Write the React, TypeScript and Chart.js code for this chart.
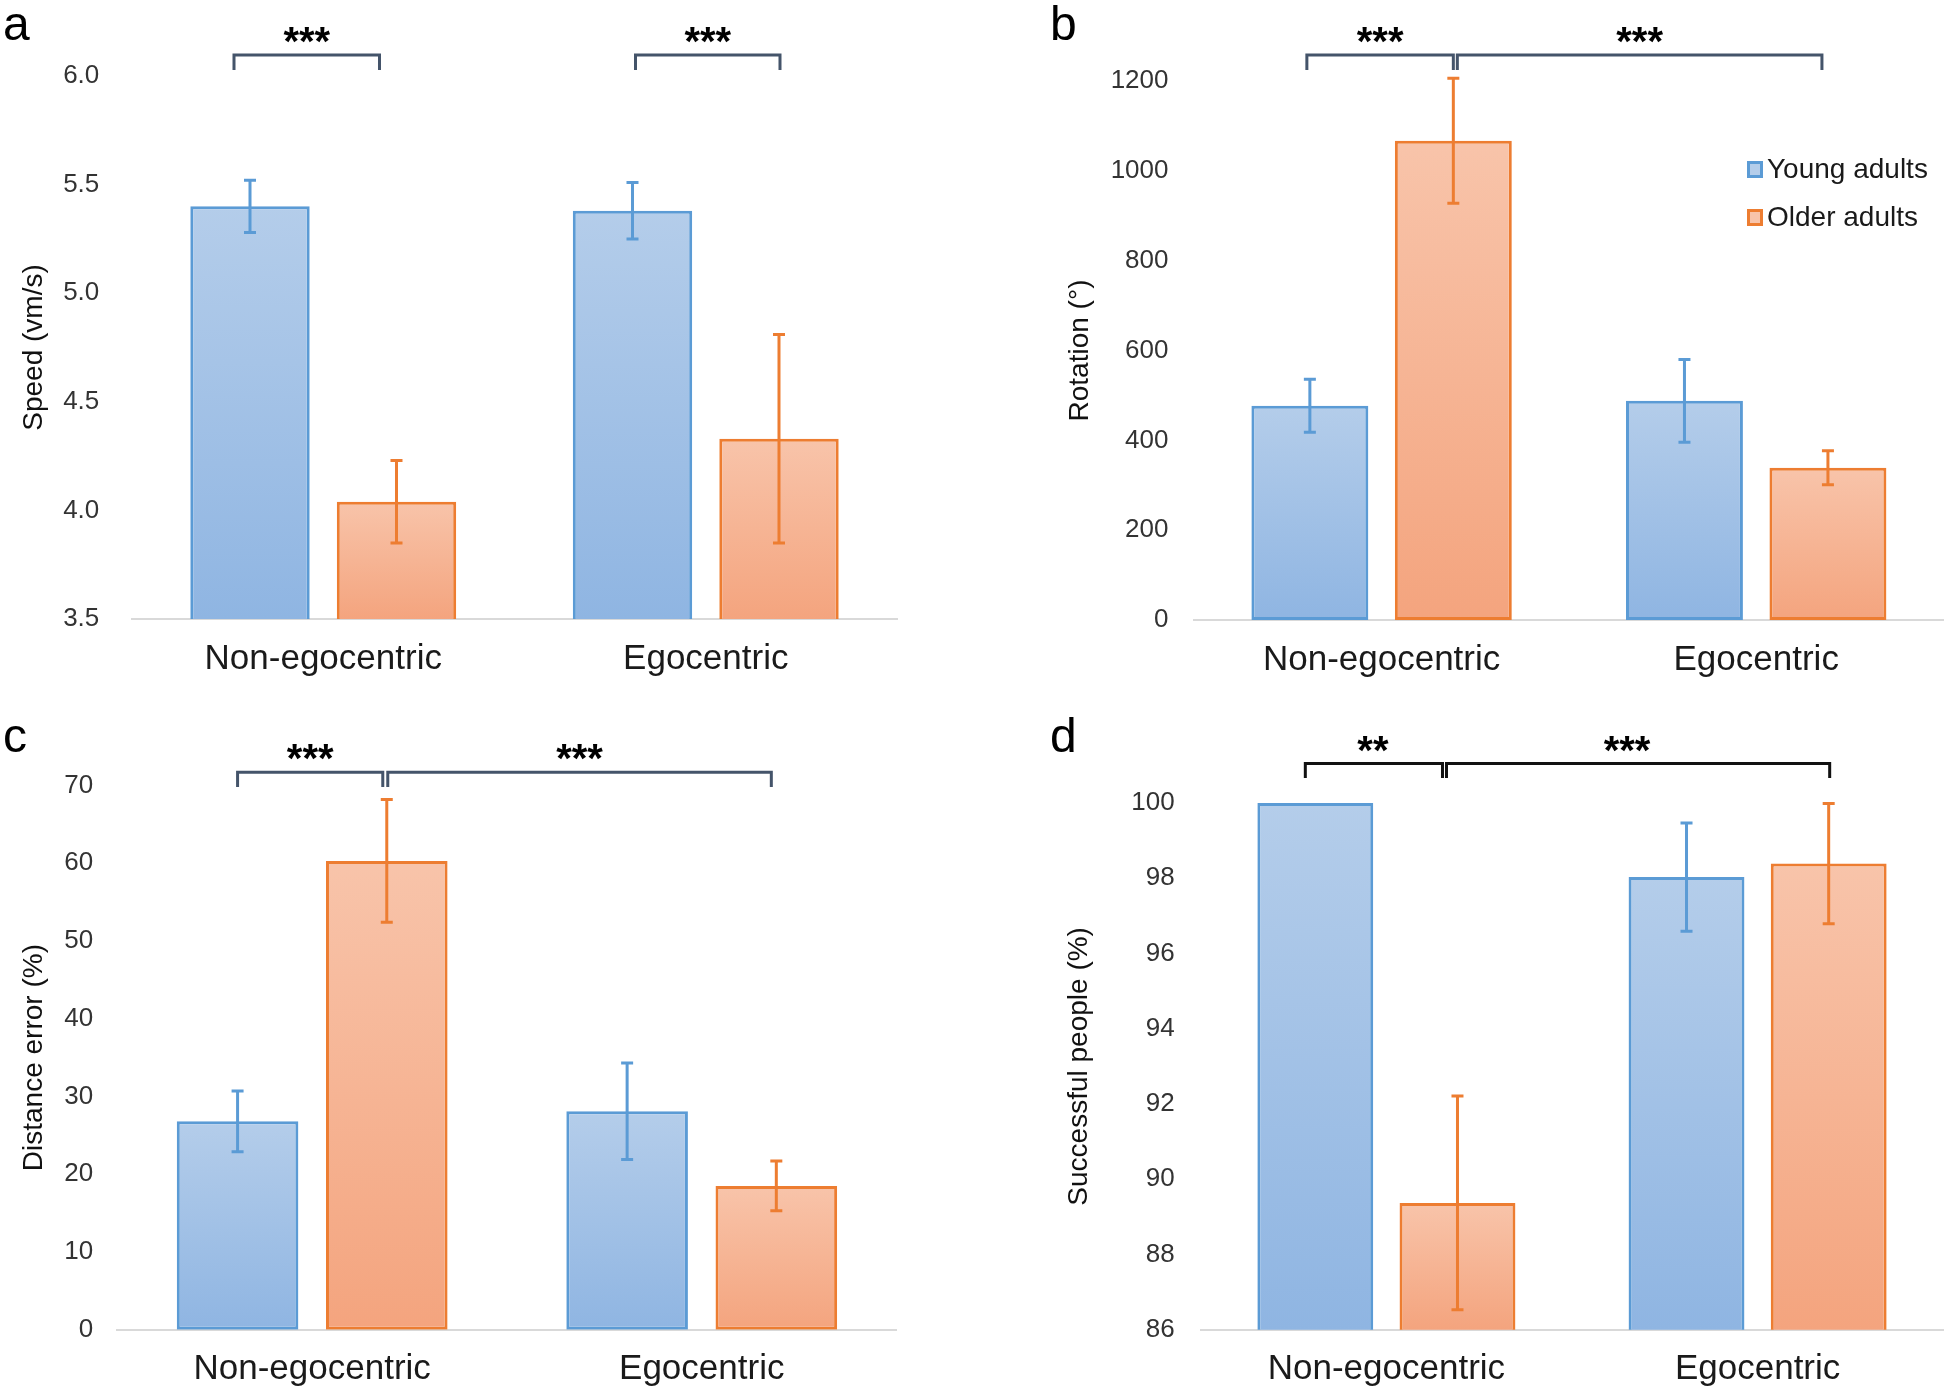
import React, { useEffect, useRef } from "react";
import { Chart, registerables } from "chart.js";

Chart.register(...registerables);

// ---------- data ----------
const categories = ["Non-egocentric", "Egocentric"];
const seriesNames = ["Young adults", "Older adults"];

// a: Speed (vm/s)
const speedYoung = [5.4, 5.38];
const speedYoungErr = [0.12, 0.13];
const speedOlder = [4.04, 4.33];
const speedOlderErr = [0.19, 0.48];
const speedTicks = [3.5, 4.0, 4.5, 5.0, 5.5, 6.0];

// b: Rotation (°)
const rotationYoung = [477, 488];
const rotationYoungErr = [59, 92];
const rotationOlder = [1067, 339];
const rotationOlderErr = [139, 38];
const rotationTicks = [0, 200, 400, 600, 800, 1000, 1200];

// c: Distance error (%)
const distanceYoung = [26.8, 28.1];
const distanceYoungErr = [3.9, 6.2];
const distanceOlder = [60.3, 18.5];
const distanceOlderErr = [7.9, 3.2];
const distanceTicks = [0, 10, 20, 30, 40, 50, 60, 70];

// d: Successful people (%)
const successYoung = [100, 98.03];
const successYoungErr = [0, 1.44];
const successOlder = [89.37, 98.39];
const successOlderErr = [2.84, 1.6];
const successTicks = [86, 88, 90, 92, 94, 96, 98, 100];

// significance: [datasetIndex, categoryIndex] pairs
const speedSig = [
  { from: [0, 0], to: [1, 0], label: "***" },
  { from: [0, 1], to: [1, 1], label: "***" },
];
const rotationSig = [
  { from: [0, 0], to: [1, 0], label: "***" },
  { from: [1, 0], to: [1, 1], label: "***" },
];
const distanceSig = [
  { from: [0, 0], to: [1, 0], label: "***" },
  { from: [1, 0], to: [1, 1], label: "***" },
];
const successSig = [
  { from: [0, 0], to: [1, 0], label: "**" },
  { from: [1, 0], to: [1, 1], label: "***" },
];

// ---------- style ----------
const FONT = "'Liberation Sans', Arial, 'DejaVu Sans', sans-serif";
const BLUE = "#5b9bd5";
const BLUE_TOP = "#b4cdea";
const BLUE_BOTTOM = "#8fb5e2";
const ORANGE = "#ed7d31";
const ORANGE_TOP = "#f8c4aa";
const ORANGE_BOTTOM = "#f4a47e";

const gradientFill = (top: string, bottom: string) => (ctx: any) => {
  const chart = ctx.chart;
  const area = chart.chartArea;
  if (!area || ctx.type !== "data") return bottom;
  const yScale = chart.scales.y;
  const yTop = yScale.getPixelForValue(ctx.raw as number);
  const g = chart.ctx.createLinearGradient(0, yTop, 0, area.bottom);
  g.addColorStop(0, top);
  g.addColorStop(1, bottom);
  return g;
};

type Geo = {
  padRight: number;
  padTop: number;
  yWidth: number;
  xHeight: number;
  tickPad: number;
  titlePad: number;
  bracketY: number;
  footY: number;
  bracketDx: number[][];
  labelDx: number[];
  letterX: number;
  letterY: number;
};

type PanelSpec = {
  letter: string;
  left: number;
  top: number;
  young: number[];
  youngErr: number[];
  older: number[];
  olderErr: number[];
  ticks: number[];
  decimals: number;
  title: string;
  sig: { from: number[]; to: number[]; label: string }[];
  bracketColor: string;
  legend: boolean;
  geo: Geo;
};

const W = 973;
const H = 695;

const panels: PanelSpec[] = [
  {
    letter: "a",
    left: 0,
    top: 0,
    young: speedYoung,
    youngErr: speedYoungErr,
    older: speedOlder,
    olderErr: speedOlderErr,
    ticks: speedTicks,
    decimals: 1,
    title: "Speed (vm/s)",
    sig: speedSig,
    bracketColor: "#44546a",
    legend: false,
    geo: {
      padRight: 76,
      padTop: 76,
      yWidth: 132,
      xHeight: 76,
      tickPad: 32.7,
      titlePad: 17,
      bracketY: 55,
      footY: 70,
      bracketDx: [
        [-16, -17],
        [3, 1],
      ],
      labelDx: [0, 0],
      letterX: 3,
      letterY: 40,
    },
  },
  {
    letter: "b",
    left: 973,
    top: 0,
    young: rotationYoung,
    youngErr: rotationYoungErr,
    older: rotationOlder,
    olderErr: rotationOlderErr,
    ticks: rotationTicks,
    decimals: 0,
    title: "Rotation (°)",
    sig: rotationSig,
    bracketColor: "#44546a",
    legend: true,
    geo: {
      padRight: 2.5,
      padTop: 81,
      yWidth: 221.3,
      xHeight: 75,
      tickPad: 25.8,
      titlePad: 90,
      bracketY: 55,
      footY: 70,
      bracketDx: [
        [-3, 0],
        [4, -6],
      ],
      labelDx: [0, 0],
      letterX: 77,
      letterY: 40,
    },
  },
  {
    letter: "c",
    left: 0,
    top: 695,
    young: distanceYoung,
    youngErr: distanceYoungErr,
    older: distanceOlder,
    olderErr: distanceOlderErr,
    ticks: distanceTicks,
    decimals: 0,
    title: "Distance error (%)",
    sig: distanceSig,
    bracketColor: "#44546a",
    legend: false,
    geo: {
      padRight: 76.5,
      padTop: 90.5,
      yWidth: 117.4,
      xHeight: 60.3,
      tickPad: 24.3,
      titlePad: 17,
      bracketY: 77.3,
      footY: 92,
      bracketDx: [
        [0, -4],
        [1, -5],
      ],
      labelDx: [0, 0],
      letterX: 3,
      letterY: 57,
    },
  },
  {
    letter: "d",
    left: 973,
    top: 695,
    young: successYoung,
    youngErr: successYoungErr,
    older: successOlder,
    olderErr: successOlderErr,
    ticks: successTicks,
    decimals: 0,
    title: "Successful people (%)",
    sig: successSig,
    bracketColor: "#111111",
    legend: false,
    geo: {
      padRight: 2.8,
      padTop: 108,
      yWidth: 227.8,
      xHeight: 60.3,
      tickPad: 26.1,
      titlePad: 89,
      bracketY: 68.5,
      footY: 83,
      bracketDx: [
        [-10, -15],
        [-11, 1],
      ],
      labelDx: [-1, -11],
      letterX: 77,
      letterY: 57,
    },
  },
];

function makeAnnotPlugin(p: PanelSpec) {
  const colors = [BLUE, ORANGE];
  const tops = [BLUE_TOP, ORANGE_TOP];
  const errs = [p.youngErr, p.olderErr];
  return {
    id: "annot" + p.letter,
    afterDatasetsDraw(chart: any) {
      const ctx = chart.ctx;
      const yScale = chart.scales.y;
      ctx.save();
      errs.forEach((arr, di) => {
        const meta = chart.getDatasetMeta(di);
        meta.data.forEach((bar: any, i: number) => {
          const e = arr[i];
          if (!e) return;
          const v = chart.data.datasets[di].data[i] as number;
          const yHi = yScale.getPixelForValue(v + e);
          const yLo = yScale.getPixelForValue(v - e);
          const x = bar.x;
          ctx.strokeStyle = colors[di];
          ctx.lineWidth = 3;
          ctx.lineCap = "butt";
          ctx.beginPath();
          ctx.moveTo(x, yHi);
          ctx.lineTo(x, yLo);
          ctx.moveTo(x - 6, yHi);
          ctx.lineTo(x + 6, yHi);
          ctx.moveTo(x - 6, yLo);
          ctx.lineTo(x + 6, yLo);
          ctx.stroke();
        });
      });
      ctx.restore();
    },
    afterDraw(chart: any) {
      const ctx = chart.ctx;
      const g = p.geo;
      ctx.save();
      // brackets
      p.sig.forEach((s, k) => {
        const a = chart.getDatasetMeta(s.from[0]).data[s.from[1]];
        const b = chart.getDatasetMeta(s.to[0]).data[s.to[1]];
        const x1 = a.x + g.bracketDx[k][0];
        const x2 = b.x + g.bracketDx[k][1];
        ctx.strokeStyle = p.bracketColor;
        ctx.lineWidth = 3;
        ctx.lineJoin = "miter";
        ctx.beginPath();
        ctx.moveTo(x1, g.footY);
        ctx.lineTo(x1, g.bracketY);
        ctx.lineTo(x2, g.bracketY);
        ctx.lineTo(x2, g.footY);
        ctx.stroke();
        ctx.fillStyle = "#000";
        ctx.font = `bold 40px ${FONT}`;
        ctx.textAlign = "center";
        ctx.textBaseline = "alphabetic";
        ctx.fillText(s.label, (x1 + x2) / 2 + g.labelDx[k], g.bracketY);
      });
      // panel letter
      ctx.fillStyle = "#000";
      ctx.font = `48px ${FONT}`;
      ctx.textAlign = "left";
      ctx.textBaseline = "alphabetic";
      ctx.fillText(p.letter, g.letterX, g.letterY);
      // legend
      if (p.legend) {
        chart.data.datasets.forEach((ds: any, di: number) => {
          const bx = 774;
          const by = 161 + di * 48;
          ctx.fillStyle = tops[di];
          ctx.fillRect(bx, by, 16, 17);
          ctx.strokeStyle = colors[di];
          ctx.lineWidth = 3;
          ctx.strokeRect(bx + 1.5, by + 1.5, 13, 14);
          ctx.fillStyle = "#1a1a1a";
          ctx.font = `28px ${FONT}`;
          ctx.textAlign = "left";
          ctx.textBaseline = "alphabetic";
          ctx.fillText(ds.label, 794, 178 + di * 48);
        });
      }
      ctx.restore();
    },
  };
}

function Panel({ p }: { p: PanelSpec }) {
  const ref = useRef<HTMLCanvasElement | null>(null);
  useEffect(() => {
    if (!ref.current) return;
    const g = p.geo;
    const chart = new Chart(ref.current, {
      type: "bar",
      data: {
        labels: categories,
        datasets: [
          {
            label: seriesNames[0],
            data: p.young,
            backgroundColor: gradientFill(BLUE_TOP, BLUE_BOTTOM) as any,
            borderColor: BLUE,
            borderWidth: 3,
            borderSkipped: false,
            barPercentage: 0.815,
            categoryPercentage: 0.766,
          },
          {
            label: seriesNames[1],
            data: p.older,
            backgroundColor: gradientFill(ORANGE_TOP, ORANGE_BOTTOM) as any,
            borderColor: ORANGE,
            borderWidth: 3,
            borderSkipped: false,
            barPercentage: 0.815,
            categoryPercentage: 0.766,
          },
        ],
      },
      options: {
        responsive: false,
        animation: false,
        devicePixelRatio: 1,
        layout: { padding: { left: 0, right: g.padRight, top: g.padTop, bottom: 0 } },
        plugins: {
          legend: { display: false },
          tooltip: { enabled: false },
        },
        scales: {
          x: {
            grid: { display: false, drawTicks: false },
            border: { display: true, color: "#d9d9d9", width: 2 },
            ticks: { font: { family: FONT, size: 35 }, color: "#1a1a1a", padding: 19 },
            afterFit: (s: any) => {
              s.height = g.xHeight;
            },
          } as any,
          y: {
            min: p.ticks[0],
            max: p.ticks[p.ticks.length - 1],
            grid: { display: false, drawTicks: false },
            border: { display: false },
            ticks: {
              font: { family: FONT, size: 26 },
              color: "#333333",
              padding: g.tickPad,
              callback: (v: any) => Number(v).toFixed(p.decimals),
            },
            afterBuildTicks: (s: any) => {
              s.ticks = p.ticks.map((v) => ({ value: v }));
            },
            afterFit: (s: any) => {
              s.width = g.yWidth;
            },
            title: {
              display: true,
              text: p.title,
              font: { family: FONT, size: 28 },
              color: "#111111",
              padding: { top: g.titlePad, bottom: 0 },
            },
          } as any,
        },
      },
      plugins: [makeAnnotPlugin(p)],
    });
    return () => chart.destroy();
  }, [p]);
  return (
    <canvas
      ref={ref}
      width={W}
      height={H}
      style={{ position: "absolute", left: p.left, top: p.top, width: W, height: H, display: "block" }}
    />
  );
}

export default function App() {
  return (
    <div style={{ position: "absolute", left: 0, top: 0, width: 1946, height: 1390, background: "#ffffff" }}>
      {panels.map((p) => (
        <Panel key={p.letter} p={p} />
      ))}
    </div>
  );
}
